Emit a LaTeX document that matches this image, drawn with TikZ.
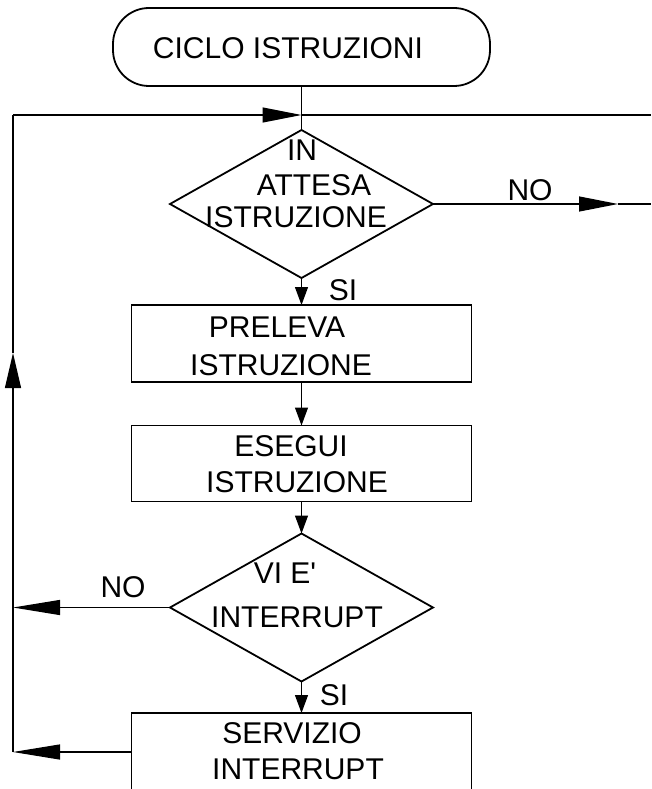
\documentclass[tikz,border=0pt]{standalone}
\usepackage{fontspec}
\setmainfont{Liberation Sans}
\usetikzlibrary{shapes.geometric,arrows.meta}
\begin{document}
\begin{tikzpicture}[x=1pt,y=-1pt,
  box/.style={draw,line width=1.8pt,rectangle,inner sep=0pt,outer sep=0pt},
  dec/.style={draw,line width=1.8pt,diamond,inner sep=0pt,outer sep=0pt,minimum width=263pt,minimum height=148pt},
  txt/.style={inner sep=0pt,font=\fontsize{30}{34}\selectfont},
  conn/.style={line width=1.2pt},
  tipA/.style={-{Triangle[length=39pt,width=15pt]}},
  tipL/.style={-{Triangle[length=47pt,width=15pt]}},
  tipU/.style={-{Triangle[length=35pt,width=16pt]}},
  tipS/.style={-{Triangle[length=18pt,width=13pt]}},
]
\useasboundingbox (0,0) rectangle (651,789);
\clip (0,0) rectangle (651,789);

% shapes
\node[box,minimum width=377pt,minimum height=78pt,rounded corners=36pt] (term) at (301.5,47) {};
\node[dec] (d1) at (301.5,204) {};
\node[box,minimum width=340pt,minimum height=77pt] (r1) at (301.5,343.5) {};
\node[box,minimum width=340pt,minimum height=76pt] (r2) at (301.5,463.5) {};
\node[dec] (d2) at (301.5,607.5) {};
\node[box,minimum width=340pt,minimum height=78pt] (r3) at (301.5,752) {};

% texts
\node[txt] (t0) at (288,48) {CICLO ISTRUZIONI};
\node[txt] (t1a) at (302,150) {IN};
\node[txt] (t1b) at (314,185) {ATTESA};
\node[txt] (t1c) at (296,217) {ISTRUZIONE};
\node[txt] (tno1) at (530,190) {NO};
\node[txt] (tsi1) at (343,290) {SI};
\node[txt] (t2a) at (277,327) {PRELEVA};
\node[txt] (t2b) at (281,365) {ISTRUZIONE};
\node[txt] (t3a) at (291,446) {ESEGUI};
\node[txt] (t3b) at (297,482) {ISTRUZIONE};
\node[txt] (t4a) at (285,573) {VI E\textquotesingle};
\node[txt] (t4b) at (297,617) {INTERRUPT};
\node[txt] (tno2) at (123,587) {NO};
\node[txt] (tsi2) at (334,695) {SI};
\node[txt] (t5a) at (292,733) {SERVIZIO};
\node[txt] (t5b) at (298,769) {INTERRUPT};

% helper coordinates
\coordinate (jt) at (301.5,115);
\coordinate (lt) at (13,115);
\coordinate (rt) at (651,115);
\coordinate (up) at (13,353);
\coordinate (lno) at (13,607.5);
\coordinate (lsv) at (13,752);
\coordinate (rno) at (618,204);
\coordinate (re) at (651,204);

% connectors
\draw[conn] (term.south) -- (d1.north);
\draw[conn,tipA] (lt) -- (jt);
\draw[conn] (jt) -- (rt);
\draw[conn,tipA] (d1.east) -- (rno);
\draw[conn] (rno) -- (re);
\draw[conn,tipS] (d1.south) -- (r1.north);
\draw[conn,tipS] (r1.south) -- (r2.north);
\draw[conn,tipS] (r2.south) -- (d2.north);
\draw[conn,tipS] (d2.south) -- (r3.north);
\draw[conn,tipL] (d2.west) -- (lno);
\draw[conn,tipL] (r3.west) -- (lsv);
\draw[conn,tipU] (lsv) -- (up);
\draw[conn] (up) -- (lt);
\end{tikzpicture}
\end{document}
